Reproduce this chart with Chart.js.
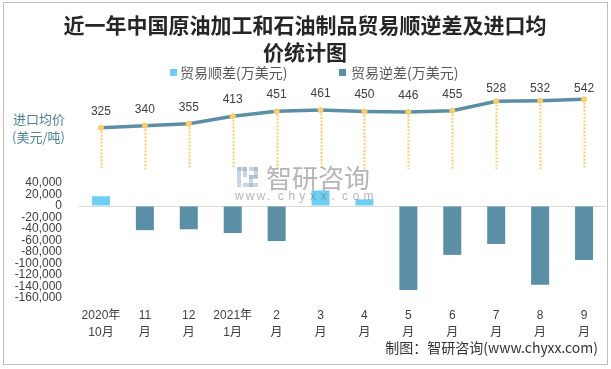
<!DOCTYPE html>
<html>
<head>
<meta charset="utf-8">
<title>近一年中国原油加工和石油制品贸易顺逆差及进口均价统计图</title>
<script src="https://cdn.jsdelivr.net/npm/chart.js"></script>
<style>
  html, body { margin: 0; padding: 0; background: #fff; }
</style>
</head>
<body>
<canvas id="tradeChart" width="611" height="369"></canvas>
<script>
// data
const months = [['2020年', '10月'], ['11', '月'], ['12', '月'], ['2021年', '1月'], ['2', '月'], ['3', '月'],
                ['4', '月'], ['5', '月'], ['6', '月'], ['7', '月'], ['8', '月'], ['9', '月']];
const surplus = [17000, null, null, null, null, 27000, 11500, null, null, null, null, null];
const deficit = [null, -42000, -40500, -47000, -61000, null, null, -146000, -85000, -66000, -137000, -94000];
const avgPrice = [325, 340, 355, 413, 451, 461, 450, 446, 455, 528, 532, 542];
const seriesNames = ['贸易顺差(万美元)', '贸易逆差(万美元)', '进口均价(美元/吨)'];
const titleLines = ['近一年中国原油加工和石油制品贸易顺逆差及进口均', '价统计图'];
const sourceText = '制图：智研咨询(www.chyxx.com)';

const BLUE = '#6DCFF6';
const TEAL = '#5B8FA6';
const GOLD = '#F9CF6B';
const TXT = '#404040';
const NUM_FONT = '"Liberation Sans", Arial, "Noto Sans CJK SC", sans-serif';
const CJK_FONT = '"Noto Sans CJK SC", "Liberation Sans", sans-serif';

// dotted drop lines from each price point down to the panel base
const dropLines = {
    id: 'dropLines',
    beforeDatasetsDraw(chart) {
        const ctx = chart.ctx;
        const meta = chart.getDatasetMeta(2);
        const base = chart.scales.y1.getPixelForValue(0);
        ctx.save();
        ctx.strokeStyle = GOLD;
        ctx.lineWidth = 2;
        ctx.setLineDash([2, 1.5]);
        meta.data.forEach(pt => {
            ctx.beginPath();
            ctx.moveTo(Math.round(pt.x) + 0.5, pt.y);
            ctx.lineTo(Math.round(pt.x) + 0.5, base - 1);
            ctx.stroke();
        });
        ctx.restore();
    },
    afterDatasetsDraw(chart) {
        const ctx = chart.ctx;
        const meta = chart.getDatasetMeta(2);
        ctx.save();
        ctx.fillStyle = TXT;
        ctx.font = '12px ' + NUM_FONT;
        ctx.textAlign = 'center';
        ctx.textBaseline = 'middle';
        meta.data.forEach((pt, i) => {
            ctx.fillText(String(avgPrice[i]), pt.x, Math.max(pt.y - 16.5, 89));
        });
        ctx.restore();
    }
};

// frame, title, legend, side label, watermark, source
const decor = {
    id: 'decor',
    beforeDraw(chart) {
        const ctx = chart.ctx;
        ctx.save();
        ctx.fillStyle = '#fff';
        ctx.fillRect(0, 0, chart.width, chart.height);
        ctx.restore();
    },
    afterDraw(chart) {
        const ctx = chart.ctx;
        ctx.save();
        // border
        ctx.strokeStyle = '#bfbfbf';
        ctx.lineWidth = 1;
        ctx.strokeRect(3.5, 2.5, 604, 362);

        // title
        ctx.fillStyle = '#262626';
        ctx.font = 'bold 21px ' + CJK_FONT;
        ctx.textAlign = 'center';
        ctx.textBaseline = 'middle';
        ctx.fillText(titleLines[0], 305, 25);
        ctx.fillText(titleLines[1], 305, 52);

        // legend
        ctx.font = '14px ' + CJK_FONT;
        ctx.textAlign = 'left';
        ctx.fillStyle = BLUE;
        ctx.fillRect(170, 69, 7, 7);
        ctx.fillStyle = TEAL;
        ctx.fillRect(339, 69, 7, 7);
        ctx.fillStyle = '#595959';
        ctx.fillText(seriesNames[0], 180, 72.5);
        ctx.fillText(seriesNames[1], 351, 72.5);

        // side label for the price line
        ctx.fillStyle = '#4f819b';
        ctx.font = '13px ' + CJK_FONT;
        ctx.fillText('进口均价', 13, 119);
        ctx.fillText('(美元/吨)', 12, 137);

        // watermark
        ctx.fillStyle = 'rgba(120,120,120,0.55)';
        ctx.font = '26px ' + CJK_FONT;
        ctx.fillText('智研咨询', 266, 178);
        ctx.font = '12px ' + NUM_FONT;
        const wm = 'www.chyxx.com';
        for (let i = 0; i < wm.length; i++) {
            ctx.fillText(wm[i], 235 + i * 10.7, 197);
        }
        ctx.fillStyle = 'rgba(150,170,200,0.5)';
        ctx.fillRect(237, 167, 4, 20);
        ctx.fillRect(237, 167, 10, 4);
        ctx.fillRect(243, 167, 4, 10);
        ctx.fillRect(249, 167, 9, 4);
        ctx.fillRect(254, 167, 4, 11);
        ctx.fillRect(249, 175, 9, 4);
        ctx.fillRect(249, 175, 4, 12);
        ctx.fillRect(243, 183, 15, 4);

        // source
        ctx.fillStyle = '#333';
        ctx.font = '14px ' + CJK_FONT;
        ctx.textAlign = 'right';
        ctx.fillText(sourceText, 598, 348);
        ctx.restore();
    }
};

new Chart(document.getElementById('tradeChart'), {
    data: {
        labels: months,
        datasets: [
            {
                type: 'bar',
                label: seriesNames[0],
                data: surplus,
                backgroundColor: BLUE,
                yAxisID: 'y',
                grouped: false,
                categoryPercentage: 1,
                barPercentage: 0.41
            },
            {
                type: 'bar',
                label: seriesNames[1],
                data: deficit,
                backgroundColor: TEAL,
                yAxisID: 'y',
                grouped: false,
                categoryPercentage: 1,
                barPercentage: 0.41
            },
            {
                type: 'line',
                label: seriesNames[2],
                data: avgPrice,
                borderColor: TEAL,
                borderWidth: 3.5,
                pointRadius: 3,
                pointBackgroundColor: GOLD,
                pointBorderWidth: 0,
                tension: 0,
                yAxisID: 'y1'
            }
        ]
    },
    options: {
        responsive: false,
        animation: false,
        layout: { padding: { left: 0, right: 5, top: 91, bottom: 26 } },
        plugins: {
            legend: { display: false },
            title: { display: false },
            tooltip: { enabled: false }
        },
        scales: {
            x: {
                offset: true,
                grid: { display: false, drawTicks: false },
                border: { display: false },
                ticks: {
                    autoSkip: false,
                    maxRotation: 0,
                    padding: 9,
                    color: TXT,
                    font: { size: 12, family: NUM_FONT, lineHeight: 1.45 }
                },
                afterFit(scale) { scale.height = 45; }
            },
            y: {
                position: 'left',
                min: -160000,
                max: 200000,
                border: { display: false },
                grid: {
                    drawTicks: false,
                    lineWidth: 1,
                    color: c => (c.tick && c.tick.value === 0) ? '#d9d9d9' : 'rgba(0,0,0,0)'
                },
                ticks: {
                    stepSize: 20000,
                    autoSkip: false,
                    padding: 17,
                    color: TXT,
                    font: { size: 12, family: NUM_FONT, lineHeight: 1 },
                    callback: v => v > 40000 ? '' : v.toLocaleString('en-US')
                },
                afterFit(scale) { scale.width = 79; }
            },
            y1: {
                display: false,
                min: -976,
                max: 606
            }
        }
    },
    plugins: [dropLines, decor]
});
</script>
</body>
</html>
